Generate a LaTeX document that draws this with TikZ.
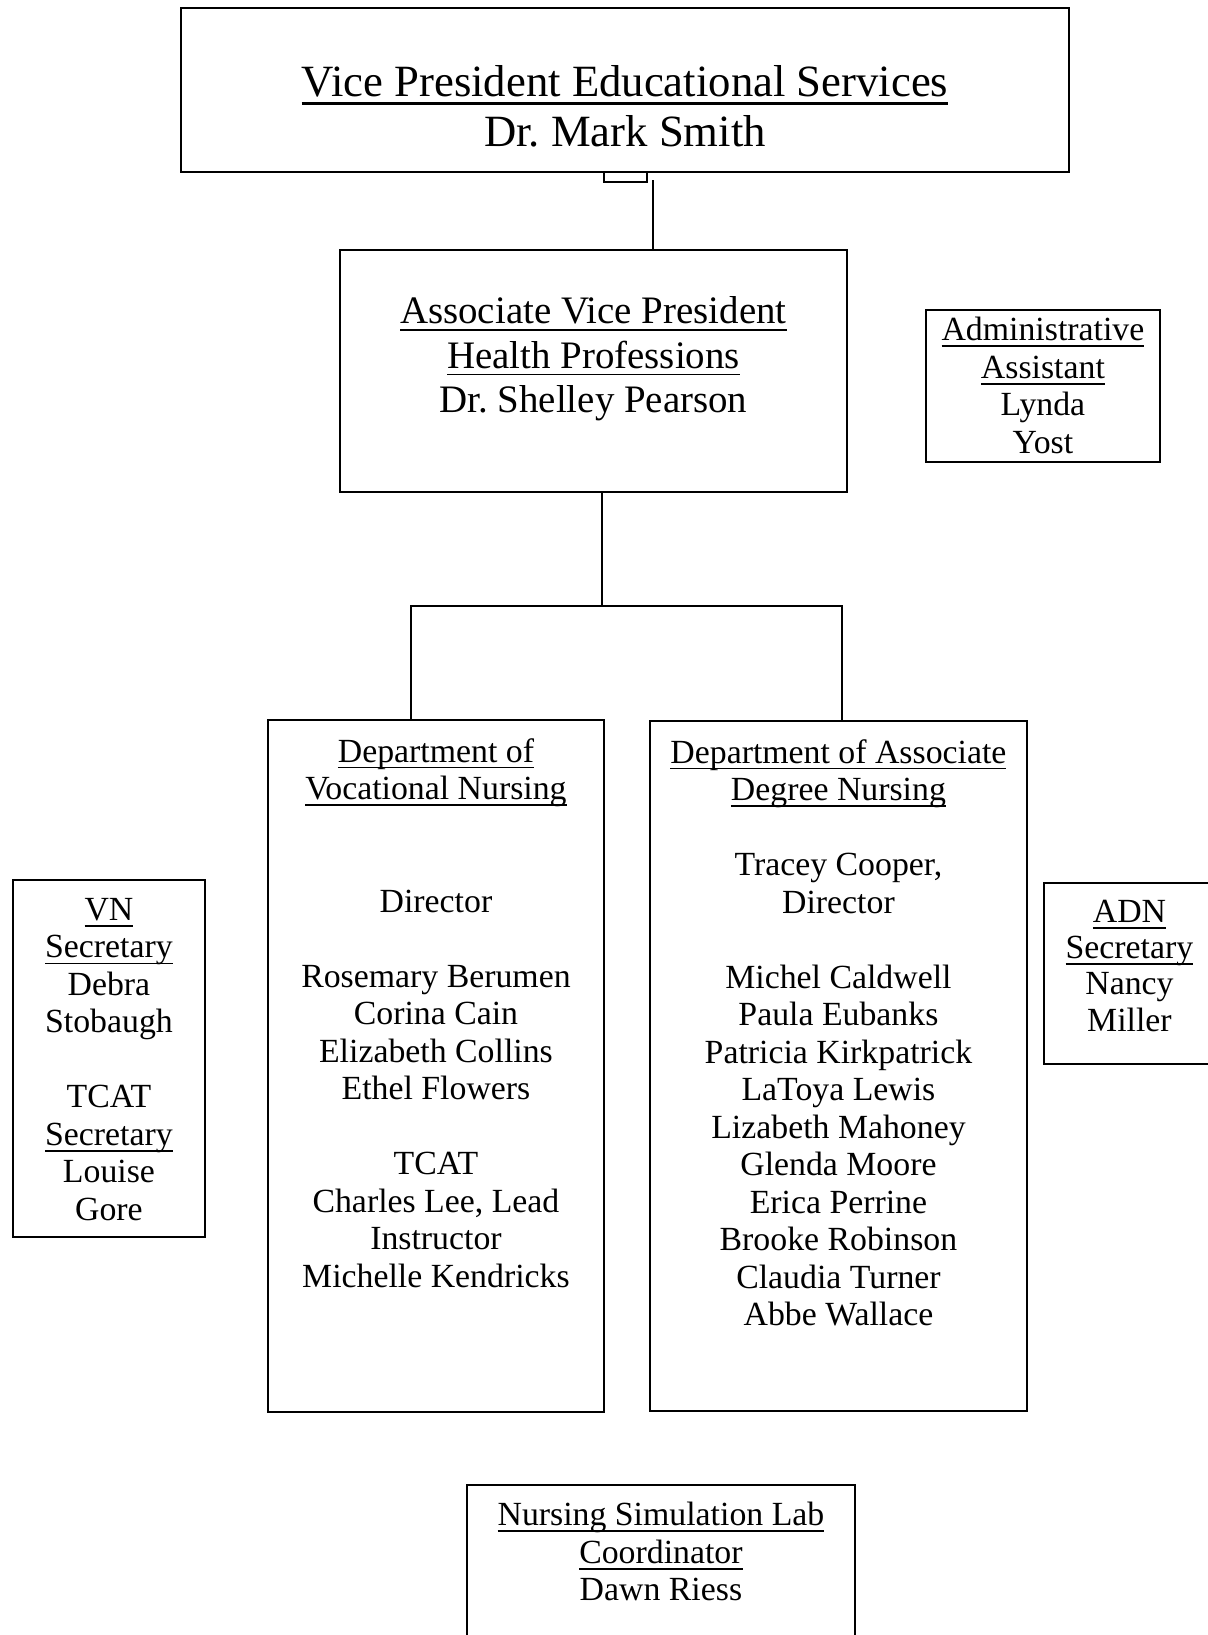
\documentclass[tikz,border=0pt]{standalone}
\usepackage{fontspec}
\setmainfont{Liberation Serif}
\newcommand{\uln}[1]{\setbox0\hbox{#1}\rlap{\rule[-0.19em]{\wd0}{0.05em}}\box0}
\tikzset{
  frame/.style={draw, line width=1.9pt, inner sep=0pt, anchor=north west},
  wire/.style={line width=1.9pt},
  bigtext/.style={anchor=north, align=center, inner sep=0pt, font=\fontsize{44.7}{50}\selectfont},
  midtext/.style={anchor=north, align=center, inner sep=0pt, font=\fontsize{38.9}{44.3}\selectfont},
  smalltext/.style={anchor=north, align=center, inner sep=0pt, font=\fontsize{33.8}{37.5}\selectfont}
}
\begin{document}
\frenchspacing
\begin{tikzpicture}[x=1pt, y=-1pt]
  \useasboundingbox (0,0) rectangle (1207,1635);
  % boxes
  \node[frame, minimum width=888pt, minimum height=164pt] (vp) at (180,7) {};
  \node[frame, minimum width=43pt, minimum height=10pt] (tab) at (603,171) {};
  \node[frame, minimum width=507pt, minimum height=242pt] (avp) at (339,249) {};
  \node[frame, minimum width=234pt, minimum height=152pt] (admin) at (925,309) {};
  \node[frame, minimum width=336pt, minimum height=692pt] (vn) at (267,719) {};
  \node[frame, minimum width=377pt, minimum height=690pt] (adn) at (649,720) {};
  \node[frame, minimum width=192pt, minimum height=357pt] (vnsec) at (12,879) {};
  \node[frame, minimum width=171pt, minimum height=181pt] (adnsec) at (1043,882) {};
  \node[frame, minimum width=388pt, minimum height=200pt] (lab) at (466,1484) {};
  % texts
  \node[bigtext] (vptxt) at ([yshift=-58pt]vp.north)
    {\uln{Vice President Educational Services}\\ Dr. Mark Smith};
  \node[midtext] (avptxt) at ([yshift=-47.6pt]avp.north)
    {\uln{Associate Vice President}\\ \uln{Health Professions}\\ Dr. Shelley Pearson};
  \node[smalltext] (admintxt) at ([yshift=-8pt]admin.north)
    {\uln{Administrative}\\ \uln{Assistant}\\ Lynda\\ Yost};
  \node[smalltext] (vntxt) at ([yshift=-19pt]vn.north)
    {\uln{Department of}\\ \uln{Vocational Nursing}\\ ~\\ ~\\ Director\\ ~\\
     Rosemary Berumen\\ Corina Cain\\ Elizabeth Collins\\ Ethel Flowers\\ ~\\
     TCAT\\ Charles Lee, Lead\\ Instructor\\ Michelle Kendricks};
  \node[smalltext] (adntxt) at ([yshift=-19pt]adn.north)
    {\uln{Department of Associate}\\ \uln{Degree Nursing}\\ ~\\
     Tracey Cooper,\\ Director\\ ~\\ Michel Caldwell\\ Paula Eubanks\\
     Patricia Kirkpatrick\\ LaToya Lewis\\ Lizabeth Mahoney\\ Glenda Moore\\
     Erica Perrine\\ Brooke Robinson\\ Claudia Turner\\ Abbe Wallace};
  \node[smalltext] (vnsectxt) at ([yshift=-19pt]vnsec.north)
    {\uln{VN}\\ \uln{Secretary}\\ Debra\\ Stobaugh\\ ~\\
     TCAT\\ \uln{Secretary}\\ Louise\\ Gore};
  \node[smalltext, font=\fontsize{33.8}{36.2}\selectfont] (adnsectxt) at ([yshift=-18pt]adnsec.north)
    {\uln{ADN}\\ \uln{Secretary}\\ Nancy\\ Miller};
  \node[smalltext] (labtxt) at ([yshift=-18pt]lab.north)
    {\uln{Nursing Simulation Lab}\\ \uln{Coordinator}\\ Dawn Riess};
  % lines
  \coordinate (drop) at (653,180);
  \coordinate (busM) at (602,606);
  \coordinate (busL) at (411,606);
  \coordinate (busR) at (842,606);
  \draw[wire] (drop) -- (drop |- avp.north);
  \draw[wire] (busM |- avp.south) -- (busM);
  \draw[wire] (busL |- vn.north) -- (busL) -- (busR) -- (busR |- adn.north);
\end{tikzpicture}
\end{document}
